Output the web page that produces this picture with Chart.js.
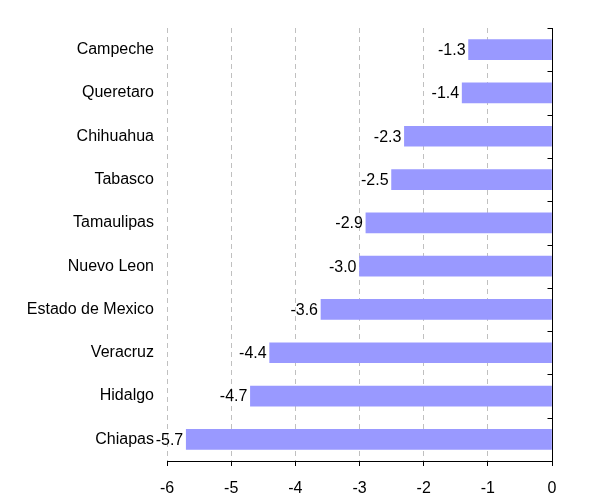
<!DOCTYPE html>
<html>
<head>
<meta charset="utf-8">
<script src="https://cdn.jsdelivr.net/npm/chart.js@4/dist/chart.umd.min.js"></script>
<style>
  html, body { margin:0; padding:0; background:#fff; }
  #wrap { width:594px; height:496px; }
</style>
</head>
<body>
<div id="wrap"><canvas id="chart" width="594" height="496"></canvas></div>
<script>
// data
const states = ['Campeche','Queretaro','Chihuahua','Tabasco','Tamaulipas','Nuevo Leon','Estado de Mexico','Veracruz','Hidalgo','Chiapas'];
const values = [-1.3, -1.4, -2.3, -2.5, -2.9, -3.0, -3.6, -4.4, -4.7, -5.7];
const xTicks = [-6, -5, -4, -3, -2, -1, 0];

const FONT = 'Liberation Sans, Arial, sans-serif';

// value labels just left of each bar end
const barLabels = {
    id:'barLabels',
    afterDatasetsDraw(chart){
        const ctx = chart.ctx;
        const meta = chart.getDatasetMeta(0);
        ctx.save();
        ctx.font = '16px ' + FONT;
        ctx.fillStyle = '#000';
        ctx.textAlign = 'right';
        ctx.textBaseline = 'middle';
        meta.data.forEach((bar, i)=>{
            ctx.fillText(values[i].toFixed(1), bar.x - 3, bar.y + 1);
        });
        ctx.restore();
    }
};

// vertical axis line at zero with inward ticks between categories
const zeroAxis = {
    id:'zeroAxis',
    afterDraw(chart){
        const ctx = chart.ctx;
        const y = chart.scales.y;
        const x0 = Math.round(chart.scales.x.getPixelForValue(0)) + 0.5;
        ctx.save();
        ctx.strokeStyle = '#000';
        ctx.lineWidth = 1;
        ctx.beginPath();
        ctx.moveTo(x0, y.top);
        ctx.lineTo(x0, y.bottom);
        for (let i = 0; i <= states.length; i++){
            const py = Math.round(y.getPixelForValue(i - 0.5)) + 0.5;
            ctx.moveTo(x0 - 5, py);
            ctx.lineTo(x0, py);
        }
        ctx.stroke();
        ctx.restore();
    }
};

new Chart(document.getElementById('chart').getContext('2d'), {
    type:'bar',
    data:{
        labels: states,
        datasets:[{
            data: values,
            backgroundColor:'#9999ff',
            borderWidth:0,
            barThickness:20
        }]
    },
    options:{
        indexAxis:'y',
        responsive:false,
        animation:false,
        layout:{padding:{top:28, right:42, bottom:0, left:0}},
        plugins:{legend:{display:false}, tooltip:{enabled:false}},
        scales:{
            x:{
                min:-6, max:0,
                afterBuildTicks(s){ s.ticks = xTicks.map(v=>({value:v})); },
                afterFit(s){ s.height = 35; },
                grid:{color:'#c0c0c0', lineWidth:1, drawTicks:true, tickLength:5, tickColor:'#000'},
                border:{display:true, color:'#000', dash:[5,4]},
                ticks:{color:'#000', font:{family:FONT, size:16}, padding:13, maxRotation:0}
            },
            y:{
                position:'left',
                afterFit(s){ s.width = 167; },
                grid:{display:false, drawTicks:false},
                border:{display:false},
                ticks:{color:'#000', font:{family:FONT, size:16}, padding:13}
            }
        }
    },
    plugins:[barLabels, zeroAxis]
});
</script>
</body>
</html>
